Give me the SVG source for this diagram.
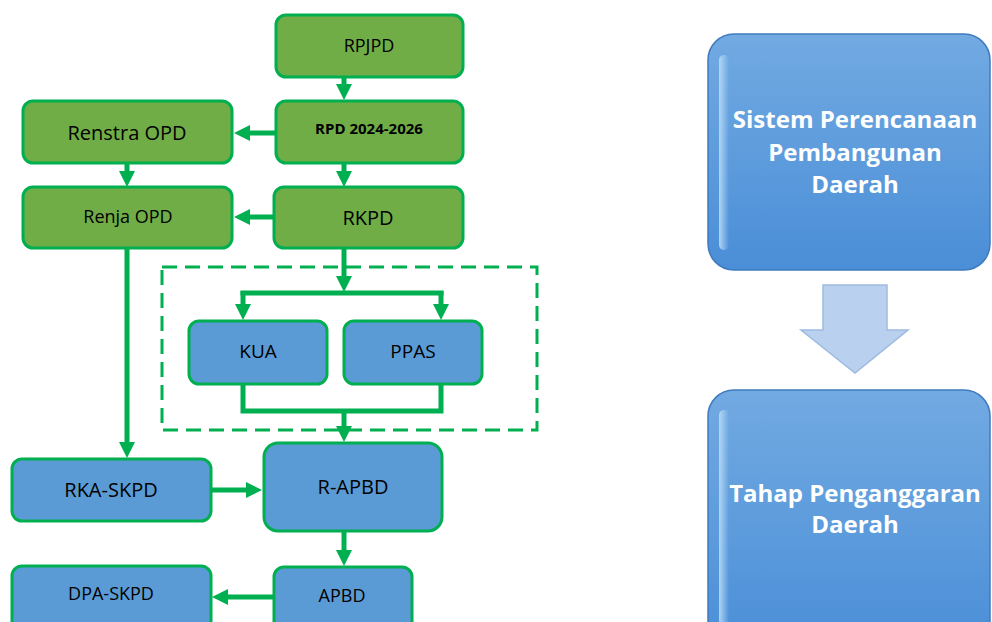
<svg xmlns="http://www.w3.org/2000/svg" width="992" height="622" viewBox="0 0 992 622">
<style>
.g{fill:#70AD47;stroke:#00B050;stroke-width:3}
.b{fill:#5B9BD5;stroke:#00B050;stroke-width:3}
.t{font-family:"Open Sans","Noto Sans",sans-serif;fill:#000;text-anchor:middle}
.w{font-family:"Open Sans","Noto Sans",sans-serif;fill:#fff;font-weight:bold;text-anchor:middle;font-size:24px}
.c{fill:none;stroke:#00B050;stroke-width:5}
.a{marker-end:url(#ah)}
.big{fill:url(#bg);stroke:#3F7BBE;stroke-width:1.5}
</style>
<defs>
<marker id="ah" markerUnits="userSpaceOnUse" viewBox="0 0 16 16" refX="8" refY="8" markerWidth="16" markerHeight="16" orient="auto">
<path d="M0 0 L16 8 L0 16 Z" fill="#00B050"/>
</marker>
<linearGradient id="bg" x1="0" y1="0" x2="0" y2="1">
<stop offset="0" stop-color="#72AAE2"/>
<stop offset="1" stop-color="#4A8ED7"/>
</linearGradient>
<linearGradient id="hl" x1="0" y1="0" x2="1" y2="0">
<stop offset="0" stop-color="#B8DDF8" stop-opacity="0.9"/>
<stop offset="1" stop-color="#B8DDF8" stop-opacity="0"/>
</linearGradient>
</defs>

<g id="connectors">
<path class="c a" d="M344 78 V92"/>
<path class="c a" d="M275 133 H242"/>
<path class="c a" d="M127 163 V179"/>
<path class="c a" d="M344 163 V179"/>
<path class="c a" d="M273 217 H242"/>
<path class="c a" d="M344 248 V284"/>
<path class="c" d="M240.5 293 H443.5"/>
<path class="c a" d="M243 291 V312"/>
<path class="c a" d="M441 291 V312"/>
<path class="c" d="M243 384 V411 H441 V384"/>
<path class="c a" d="M344 411 V434"/>
<path class="c a" d="M127 248 V450"/>
<path class="c a" d="M211 490 H254"/>
<path class="c a" d="M344 531 V558"/>
<path class="c a" d="M273 597 H220"/>
</g>

<rect id="group-box" x="162" y="267" width="375" height="163" fill="none" stroke="#00B050" stroke-width="3" stroke-dasharray="15 8"/>

<g id="rpjpd"><rect class="g" x="276" y="15" width="187" height="62" rx="10"/><text class="t" x="369" y="52" font-size="18">RPJPD</text></g>
<g id="rpd"><rect class="g" x="276" y="101" width="187" height="62" rx="10"/><text class="t" x="369" y="134" font-size="15" font-weight="bold">RPD 2024-2026</text></g>
<g id="renstra"><rect class="g" x="23" y="101" width="209" height="62" rx="10"/><text class="t" x="127" y="140" font-size="20">Renstra OPD</text></g>
<g id="renja"><rect class="g" x="23" y="187" width="209" height="61" rx="10"/><text class="t" x="128" y="223" font-size="18">Renja OPD</text></g>
<g id="rkpd"><rect class="g" x="274" y="187" width="189" height="61" rx="10"/><text class="t" x="368" y="225" font-size="20">RKPD</text></g>
<g id="kua"><rect class="b" x="189" y="321" width="138" height="63" rx="10"/><text class="t" x="258" y="358" font-size="19">KUA</text></g>
<g id="ppas"><rect class="b" x="344" y="321" width="138" height="63" rx="10"/><text class="t" x="413" y="358" font-size="19">PPAS</text></g>
<g id="rka"><rect class="b" x="12" y="459" width="199" height="62" rx="10"/><text class="t" x="111" y="497" font-size="20">RKA-SKPD</text></g>
<g id="rapbd"><rect class="b" x="264" y="443" width="178" height="88" rx="14"/><text class="t" x="353" y="494" font-size="20">R-APBD</text></g>
<g id="dpa"><rect class="b" x="12" y="566" width="199" height="70" rx="10"/><text class="t" x="111" y="600" font-size="18">DPA-SKPD</text></g>
<g id="apbd"><rect class="b" x="274" y="567" width="138" height="70" rx="10"/><text class="t" x="342" y="602" font-size="18">APBD</text></g>

<g id="sistem">
<rect class="big" x="708" y="34" width="282" height="236" rx="26"/>
<rect x="719" y="55" width="10" height="195" rx="5" fill="url(#hl)"/>
<text class="w" x="855" y="128">Sistem Perencanaan</text>
<text class="w" x="855" y="161">Pembangunan</text>
<text class="w" x="855" y="193">Daerah</text>
</g>

<g id="down-arrow">
<path d="M823 285 H887 V330 H908 L855 373 L801 330 H823 Z" fill="#B9D1EE" stroke="#9DBAE0" stroke-width="1.5"/>
</g>

<g id="tahap">
<rect class="big" x="708" y="390" width="282" height="262" rx="26"/>
<rect x="719" y="410" width="10" height="215" rx="5" fill="url(#hl)"/>
<text class="w" x="855" y="502">Tahap Penganggaran</text>
<text class="w" x="855" y="533">Daerah</text>
</g>
</svg>
